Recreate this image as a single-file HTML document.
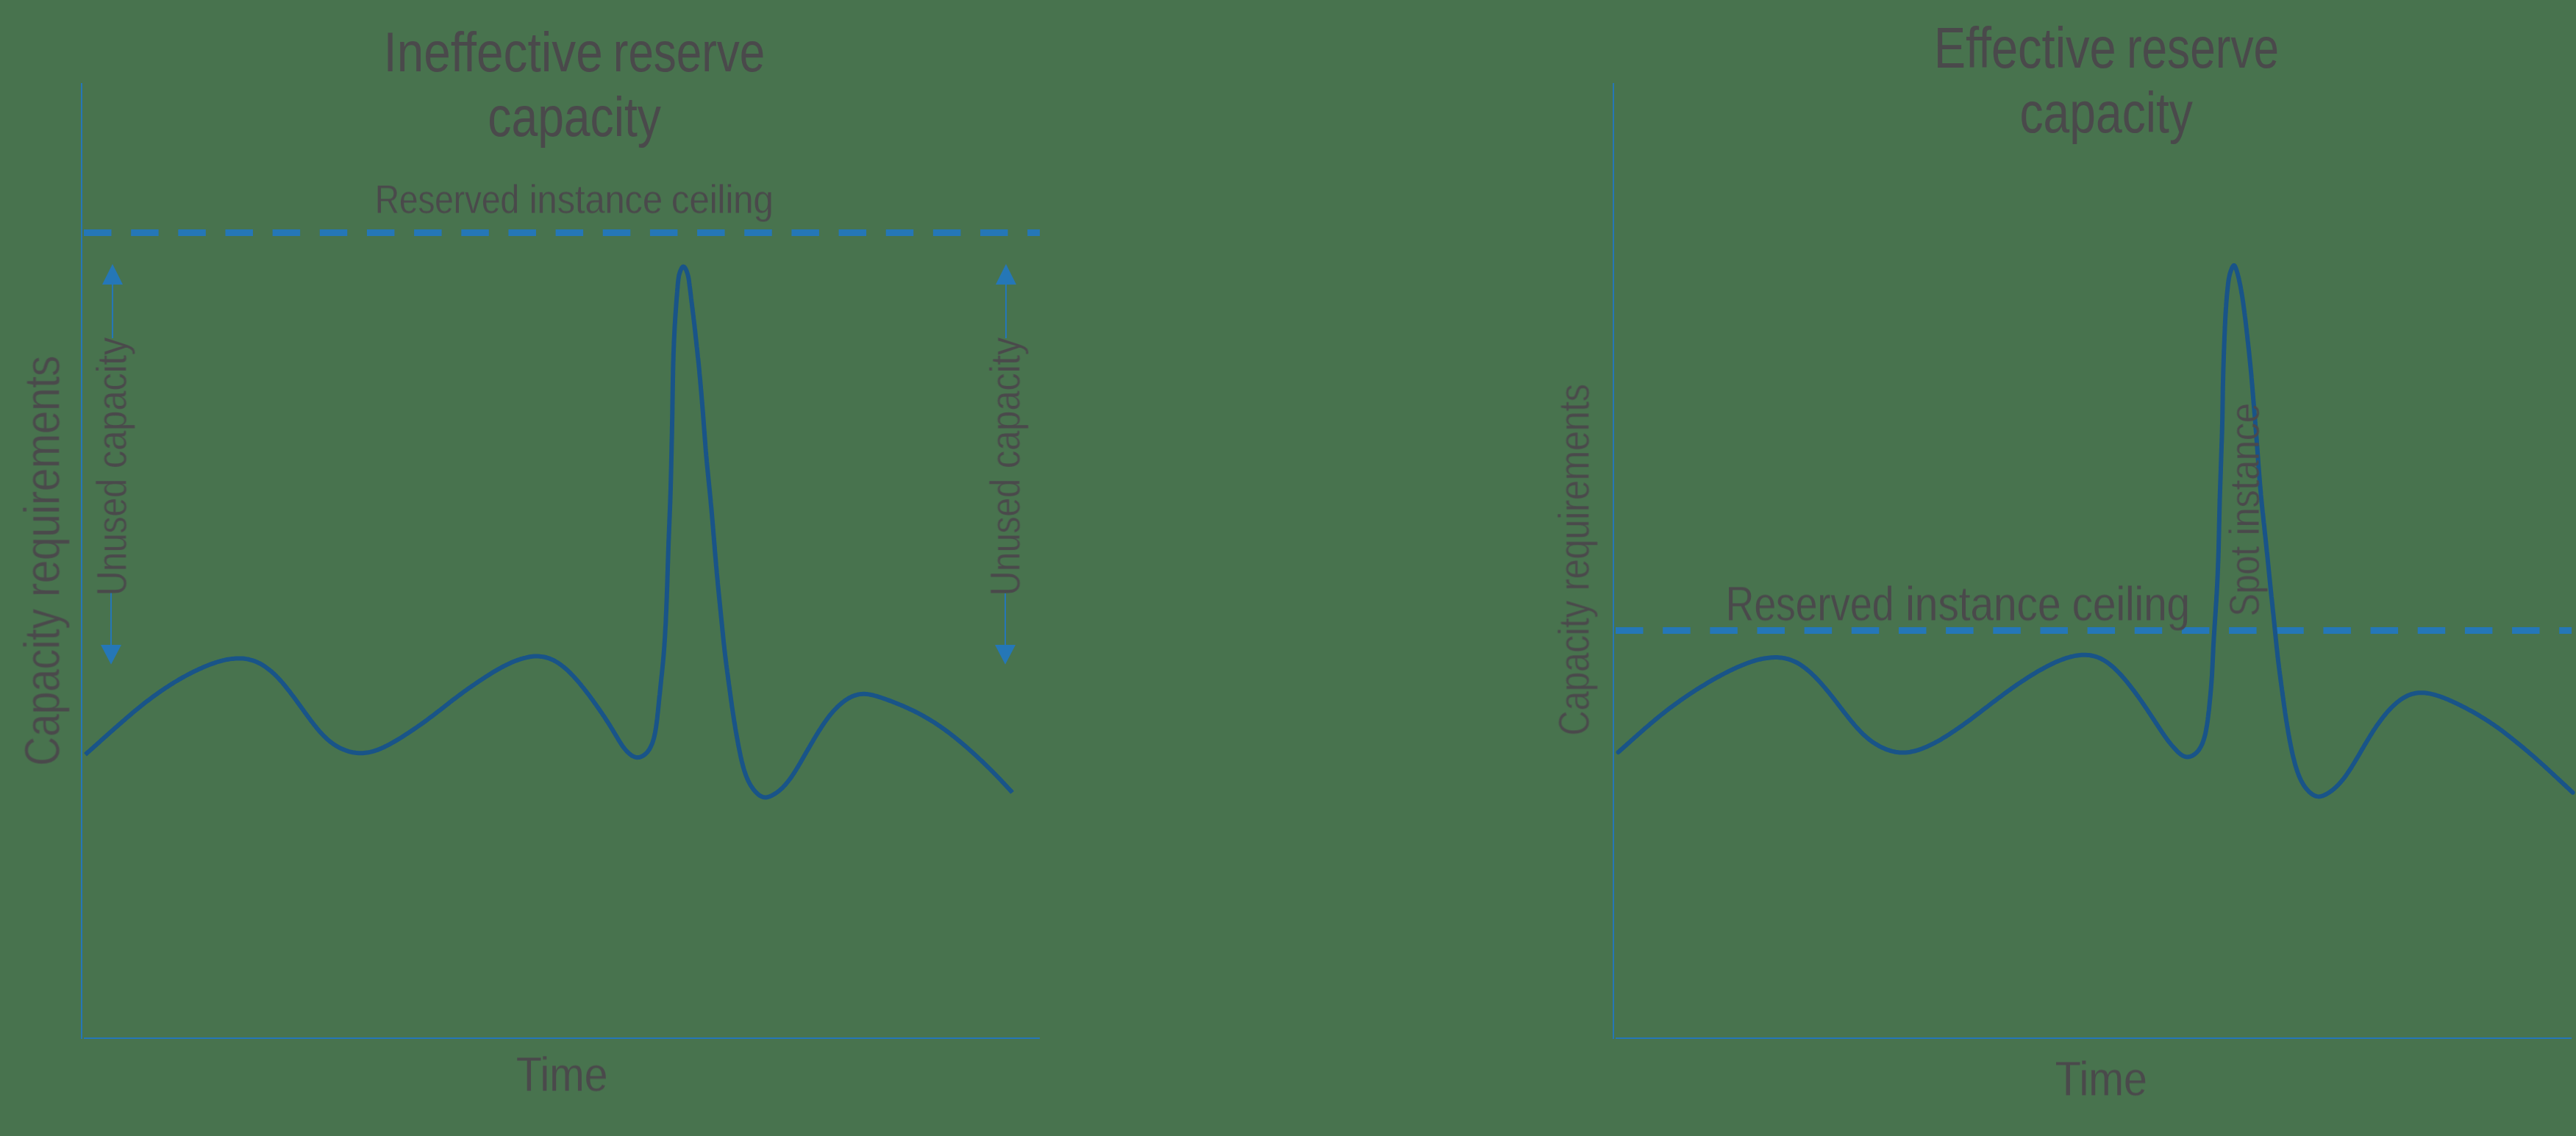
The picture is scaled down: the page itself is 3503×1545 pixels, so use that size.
<!DOCTYPE html>
<html><head><meta charset="utf-8"><style>
html,body{margin:0;padding:0;background:#48734e;}
svg{display:block;}
text{font-family:"Liberation Sans", sans-serif;fill:#4a494b;}
</style></head><body>
<svg width="3503" height="1545" viewBox="0 0 3503 1545">
<defs><filter id="th" x="-2%" y="-2%" width="104%" height="104%" color-interpolation-filters="sRGB"><feMorphology in="SourceGraphic" operator="erode" radius="0.5" result="er"/><feComposite in="SourceGraphic" in2="er" operator="arithmetic" k1="0" k2="0.5" k3="0.5" k4="0"/></filter></defs>
<rect x="0" y="0" width="3503" height="1545" fill="#48734e"/>
<line x1="111" y1="113" x2="111" y2="1413" stroke="#2577b7" stroke-width="2"/>
<line x1="114" y1="1412" x2="1414" y2="1412" stroke="#2577b7" stroke-width="2"/>
<line x1="114" y1="316.5" x2="1414" y2="316.5" stroke="#2577b7" stroke-width="9" stroke-dasharray="37.5 26.66"/>
<line x1="2194" y1="113" x2="2194" y2="1413" stroke="#2577b7" stroke-width="2"/>
<line x1="2197" y1="1412" x2="3497" y2="1412" stroke="#2577b7" stroke-width="2"/>
<line x1="2197" y1="857.5" x2="3497" y2="857.5" stroke="#2577b7" stroke-width="9" stroke-dasharray="37.5 26.66"/>
<polygon points="153.00,359.00 139.00,387.00 167.00,387.00" fill="#2577b7"/>
<line x1="153.00" y1="387.00" x2="153.00" y2="460.00" stroke="#2577b7" stroke-width="2"/>
<line x1="151.00" y1="806.00" x2="151.00" y2="877.00" stroke="#2577b7" stroke-width="2"/>
<polygon points="151.00,903.80 137.00,877.00 165.00,877.00" fill="#2577b7"/>
<polygon points="1368.00,359.00 1354.00,387.00 1382.00,387.00" fill="#2577b7"/>
<line x1="1368.00" y1="387.00" x2="1368.00" y2="460.00" stroke="#2577b7" stroke-width="2"/>
<line x1="1367.00" y1="807.00" x2="1367.00" y2="877.00" stroke="#2577b7" stroke-width="2"/>
<polygon points="1367.00,903.80 1353.00,877.00 1381.00,877.00" fill="#2577b7"/>
<path d="M116.0,1026.2 L117.5,1024.9 L119.0,1023.5 L120.5,1022.2 L122.0,1020.9 L123.5,1019.6 L125.0,1018.2 L126.5,1016.9 L128.0,1015.6 L129.5,1014.2 L131.0,1012.9 L132.5,1011.6 L134.0,1010.2 L135.5,1008.9 L136.9,1007.6 L138.4,1006.3 L139.9,1004.9 L141.4,1003.6 L142.9,1002.3 L144.4,1000.9 L145.9,999.6 L147.4,998.3 L148.9,996.9 L150.4,995.6 L151.9,994.3 L153.4,993.0 L154.9,991.6 L156.4,990.3 L157.9,989.0 L159.4,987.7 L160.9,986.3 L162.4,985.0 L163.9,983.7 L165.4,982.4 L166.9,981.1 L168.5,979.7 L170.0,978.4 L171.5,977.1 L173.0,975.8 L174.5,974.5 L176.0,973.2 L177.5,971.9 L179.1,970.6 L180.6,969.3 L182.1,968.0 L183.7,966.7 L185.2,965.5 L186.8,964.2 L188.3,962.9 L189.9,961.7 L191.4,960.4 L193.0,959.2 L194.6,957.9 L196.1,956.7 L197.7,955.4 L199.3,954.2 L200.9,953.0 L202.5,951.8 L204.1,950.6 L205.7,949.4 L207.3,948.2 L208.9,947.0 L210.5,945.8 L212.1,944.7 L213.8,943.5 L215.4,942.3 L217.0,941.2 L218.7,940.0 L220.3,938.9 L222.0,937.8 L223.6,936.7 L225.3,935.6 L227.0,934.5 L228.7,933.4 L230.3,932.3 L232.0,931.2 L233.7,930.1 L235.4,929.1 L237.1,928.0 L238.8,927.0 L240.6,926.0 L242.3,924.9 L244.0,923.9 L245.8,922.9 L247.5,921.9 L249.2,921.0 L251.0,920.0 L252.8,919.0 L254.5,918.1 L256.3,917.1 L258.1,916.2 L259.9,915.3 L261.6,914.4 L263.4,913.5 L265.2,912.6 L267.1,911.7 L268.9,910.9 L270.7,910.0 L272.5,909.2 L274.4,908.4 L276.2,907.6 L278.1,906.8 L279.9,906.0 L281.8,905.3 L283.7,904.5 L285.5,903.8 L287.4,903.1 L289.3,902.4 L291.2,901.8 L293.1,901.1 L295.0,900.5 L296.9,899.9 L298.9,899.4 L300.8,898.8 L302.7,898.3 L304.7,897.9 L306.6,897.4 L308.6,897.0 L310.6,896.7 L312.5,896.4 L314.5,896.1 L316.5,895.9 L318.5,895.7 L320.5,895.5 L322.5,895.4 L324.5,895.4 L326.5,895.4 L328.5,895.5 L330.4,895.6 L332.4,895.8 L334.4,896.1 L336.3,896.4 L338.3,896.8 L340.2,897.3 L342.1,897.8 L344.0,898.4 L345.9,899.0 L347.7,899.8 L349.5,900.5 L351.3,901.4 L353.1,902.2 L354.8,903.2 L356.5,904.2 L358.2,905.2 L359.9,906.3 L361.5,907.4 L363.1,908.6 L364.7,909.8 L366.3,911.0 L367.9,912.3 L369.4,913.6 L370.9,914.9 L372.4,916.2 L373.8,917.6 L375.3,919.0 L376.7,920.5 L378.1,921.9 L379.4,923.4 L380.8,924.9 L382.2,926.4 L383.5,927.9 L384.8,929.4 L386.1,931.0 L387.4,932.5 L388.7,934.1 L389.9,935.7 L391.2,937.3 L392.4,938.8 L393.7,940.4 L394.9,942.0 L396.1,943.7 L397.3,945.3 L398.6,946.9 L399.8,948.5 L401.0,950.1 L402.2,951.8 L403.4,953.4 L404.5,955.0 L405.7,956.6 L406.9,958.3 L408.1,959.9 L409.3,961.5 L410.5,963.2 L411.7,964.8 L412.8,966.4 L414.0,968.1 L415.2,969.7 L416.4,971.3 L417.6,973.0 L418.8,974.6 L420.0,976.2 L421.2,977.8 L422.4,979.5 L423.6,981.1 L424.9,982.7 L426.1,984.3 L427.3,985.9 L428.6,987.4 L429.9,989.0 L431.1,990.6 L432.4,992.1 L433.7,993.7 L435.1,995.2 L436.4,996.7 L437.8,998.1 L439.1,999.6 L440.5,1001.0 L442.0,1002.4 L443.4,1003.8 L444.9,1005.2 L446.4,1006.5 L447.9,1007.8 L449.4,1009.0 L451.0,1010.2 L452.6,1011.4 L454.2,1012.5 L455.9,1013.6 L457.6,1014.6 L459.3,1015.6 L461.0,1016.6 L462.8,1017.5 L464.5,1018.3 L466.4,1019.1 L468.2,1019.8 L470.0,1020.5 L471.9,1021.2 L473.8,1021.8 L475.7,1022.3 L477.6,1022.8 L479.6,1023.2 L481.6,1023.5 L483.5,1023.8 L485.5,1024.0 L487.5,1024.2 L489.5,1024.2 L491.4,1024.2 L493.4,1024.2 L495.4,1024.0 L497.4,1023.8 L499.3,1023.6 L501.3,1023.2 L503.2,1022.9 L505.2,1022.4 L507.1,1021.9 L509.0,1021.3 L510.9,1020.7 L512.8,1020.1 L514.6,1019.4 L516.5,1018.6 L518.3,1017.9 L520.2,1017.0 L522.0,1016.2 L523.8,1015.3 L525.6,1014.4 L527.4,1013.5 L529.2,1012.6 L531.0,1011.6 L532.7,1010.7 L534.5,1009.7 L536.2,1008.7 L538.0,1007.6 L539.7,1006.6 L541.4,1005.6 L543.2,1004.5 L544.9,1003.5 L546.6,1002.4 L548.3,1001.3 L550.0,1000.2 L551.7,999.1 L553.4,998.0 L555.1,996.9 L556.8,995.8 L558.4,994.7 L560.1,993.6 L561.8,992.5 L563.4,991.3 L565.1,990.2 L566.7,989.1 L568.4,987.9 L570.0,986.8 L571.7,985.6 L573.3,984.5 L575.0,983.3 L576.6,982.2 L578.2,981.0 L579.8,979.8 L581.4,978.6 L583.0,977.4 L584.6,976.2 L586.2,975.0 L587.8,973.8 L589.4,972.6 L591.0,971.4 L592.6,970.2 L594.2,968.9 L595.8,967.7 L597.4,966.5 L598.9,965.3 L600.5,964.0 L602.1,962.8 L603.7,961.6 L605.2,960.3 L606.8,959.1 L608.4,957.9 L610.0,956.6 L611.5,955.4 L613.1,954.2 L614.7,952.9 L616.3,951.7 L617.9,950.5 L619.5,949.3 L621.1,948.1 L622.7,946.9 L624.3,945.7 L625.9,944.5 L627.5,943.3 L629.1,942.1 L630.7,940.9 L632.3,939.8 L634.0,938.6 L635.6,937.4 L637.2,936.3 L638.9,935.1 L640.5,934.0 L642.1,932.8 L643.8,931.7 L645.4,930.6 L647.1,929.4 L648.8,928.3 L650.4,927.2 L652.1,926.1 L653.8,925.0 L655.4,923.9 L657.1,922.8 L658.8,921.7 L660.5,920.6 L662.2,919.5 L663.9,918.4 L665.6,917.4 L667.3,916.3 L669.0,915.2 L670.7,914.2 L672.4,913.2 L674.2,912.1 L675.9,911.1 L677.6,910.1 L679.4,909.2 L681.2,908.2 L682.9,907.2 L684.7,906.3 L686.5,905.4 L688.3,904.5 L690.1,903.6 L691.9,902.7 L693.7,901.9 L695.5,901.1 L697.4,900.3 L699.2,899.5 L701.1,898.8 L703.0,898.1 L704.9,897.4 L706.8,896.8 L708.7,896.1 L710.6,895.6 L712.5,895.0 L714.5,894.6 L716.4,894.1 L718.4,893.7 L720.3,893.3 L722.3,893.0 L724.3,892.8 L726.3,892.6 L728.3,892.6 L730.2,892.5 L732.2,892.6 L734.2,892.7 L736.1,892.9 L738.1,893.2 L740.0,893.5 L741.9,894.0 L743.8,894.5 L745.7,895.1 L747.5,895.7 L749.3,896.5 L751.1,897.3 L752.9,898.1 L754.6,899.0 L756.3,900.0 L758.0,901.0 L759.7,902.1 L761.3,903.2 L762.9,904.4 L764.5,905.6 L766.1,906.8 L767.6,908.1 L769.2,909.4 L770.7,910.8 L772.2,912.1 L773.6,913.5 L775.1,914.9 L776.5,916.4 L777.9,917.8 L779.3,919.3 L780.7,920.8 L782.0,922.3 L783.4,923.8 L784.7,925.3 L786.1,926.8 L787.4,928.4 L788.7,929.9 L790.0,931.5 L791.2,933.1 L792.5,934.6 L793.8,936.2 L795.0,937.8 L796.3,939.4 L797.5,941.0 L798.7,942.6 L800.0,944.2 L801.2,945.8 L802.4,947.4 L803.6,949.1 L804.8,950.7 L806.0,952.3 L807.1,953.9 L808.3,955.6 L809.5,957.2 L810.7,958.8 L811.8,960.5 L813.0,962.1 L814.1,963.8 L815.3,965.4 L816.4,967.1 L817.6,968.7 L818.7,970.4 L819.8,972.1 L821.0,973.7 L822.1,975.4 L823.2,977.1 L824.3,978.8 L825.4,980.5 L826.5,982.2 L827.6,983.9 L828.7,985.6 L829.8,987.4 L830.8,989.1 L831.9,990.8 L833.0,992.6 L834.0,994.3 L835.1,996.1 L836.1,997.8 L837.2,999.6 L838.3,1001.4 L839.3,1003.1 L840.4,1004.9 L841.4,1006.7 L842.5,1008.4 L843.6,1010.1 L844.7,1011.8 L845.8,1013.5 L847.0,1015.2 L848.2,1016.8 L849.4,1018.4 L850.7,1019.9 L852.0,1021.4 L853.4,1022.8 L854.8,1024.1 L856.3,1025.4 L857.8,1026.6 L859.4,1027.7 L861.2,1028.6 L862.9,1029.4 L864.8,1030.0 L866.6,1030.2 L868.5,1030.1 L870.3,1029.7 L872.2,1029.0 L873.9,1028.1 L875.6,1027.1 L877.1,1025.9 L878.5,1024.7 L879.9,1023.3 L881.1,1021.8 L882.2,1020.3 L883.3,1018.7 L884.2,1017.0 L885.1,1015.2 L885.9,1013.4 L886.7,1011.6 L887.4,1009.7 L888.0,1007.8 L888.6,1005.8 L889.2,1003.8 L889.7,1001.8 L890.1,999.8 L890.6,997.8 L891.0,995.7 L891.4,993.7 L891.7,991.6 L892.0,989.6 L892.3,987.5 L892.6,985.4 L892.9,983.3 L893.2,981.2 L893.4,979.2 L893.7,977.1 L893.9,975.0 L894.1,973.0 L894.3,970.9 L894.6,968.9 L894.8,966.8 L895.0,964.8 L895.2,962.7 L895.4,960.7 L895.6,958.7 L895.8,956.7 L896.0,954.6 L896.2,952.6 L896.4,950.6 L896.6,948.6 L896.8,946.6 L897.1,944.6 L897.3,942.6 L897.5,940.6 L897.7,938.6 L897.9,936.6 L898.1,934.6 L898.3,932.6 L898.5,930.6 L898.7,928.6 L898.9,926.6 L899.1,924.6 L899.3,922.7 L899.5,920.7 L899.8,918.7 L900.0,916.7 L900.2,914.7 L900.4,912.7 L900.6,910.7 L900.8,908.8 L901.0,906.8 L901.2,904.8 L901.4,902.8 L901.6,900.8 L901.8,898.8 L901.9,896.8 L902.1,894.9 L902.3,892.9 L902.5,890.9 L902.6,888.9 L902.8,886.9 L902.9,884.9 L903.1,882.9 L903.2,880.9 L903.4,878.9 L903.5,876.9 L903.6,874.9 L903.8,872.9 L903.9,870.9 L904.0,868.9 L904.2,866.9 L904.3,864.9 L904.4,862.9 L904.5,860.9 L904.6,858.9 L904.7,856.9 L904.8,854.9 L904.9,852.9 L905.1,850.9 L905.2,848.9 L905.3,846.9 L905.4,844.9 L905.5,842.9 L905.5,840.9 L905.6,838.9 L905.7,836.9 L905.8,834.9 L905.9,832.9 L906.0,830.9 L906.1,828.9 L906.2,826.9 L906.2,824.9 L906.3,822.9 L906.4,820.9 L906.5,818.9 L906.6,816.9 L906.6,814.9 L906.7,812.9 L906.8,810.9 L906.8,808.9 L906.9,806.9 L907.0,804.9 L907.1,802.9 L907.1,800.9 L907.2,798.9 L907.3,796.9 L907.3,794.9 L907.4,792.9 L907.5,790.9 L907.5,788.9 L907.6,786.9 L907.6,784.9 L907.7,782.9 L907.8,780.9 L907.8,778.9 L907.9,776.9 L908.0,774.9 L908.0,772.9 L908.1,770.9 L908.1,768.9 L908.2,766.9 L908.3,764.9 L908.3,762.9 L908.4,760.9 L908.5,758.9 L908.5,756.9 L908.6,754.9 L908.7,752.9 L908.7,750.9 L908.8,748.9 L908.9,746.9 L908.9,744.9 L909.0,742.9 L909.1,740.9 L909.1,738.9 L909.2,736.9 L909.3,734.9 L909.4,732.9 L909.5,730.9 L909.5,728.9 L909.6,726.9 L909.7,724.9 L909.8,722.9 L909.9,720.9 L909.9,718.9 L910.0,716.9 L910.1,714.9 L910.2,712.9 L910.3,710.9 L910.3,708.9 L910.4,706.9 L910.5,704.9 L910.6,702.9 L910.7,700.9 L910.7,698.9 L910.8,696.9 L910.9,694.9 L911.0,692.9 L911.1,690.9 L911.1,688.9 L911.2,686.9 L911.3,684.9 L911.4,682.9 L911.4,680.9 L911.5,678.9 L911.6,676.9 L911.6,674.9 L911.7,672.9 L911.8,670.9 L911.8,668.9 L911.9,666.9 L912.0,664.9 L912.0,662.9 L912.1,660.9 L912.1,658.9 L912.2,656.9 L912.2,654.9 L912.3,652.9 L912.3,650.9 L912.4,648.9 L912.4,646.9 L912.5,644.9 L912.5,642.9 L912.6,640.9 L912.6,638.9 L912.7,636.9 L912.7,634.9 L912.8,632.9 L912.8,630.9 L912.8,628.9 L912.9,626.9 L912.9,624.9 L913.0,622.9 L913.0,620.9 L913.1,618.9 L913.1,616.9 L913.2,614.9 L913.2,612.9 L913.3,610.9 L913.3,608.9 L913.3,606.9 L913.4,604.9 L913.4,602.9 L913.5,600.9 L913.5,598.8 L913.6,596.8 L913.6,594.8 L913.7,592.8 L913.7,590.8 L913.8,588.8 L913.8,586.8 L913.8,584.8 L913.9,582.8 L913.9,580.8 L914.0,578.8 L914.0,576.8 L914.0,574.8 L914.1,572.8 L914.1,570.8 L914.2,568.8 L914.2,566.8 L914.2,564.8 L914.3,562.8 L914.3,560.8 L914.3,558.8 L914.4,556.8 L914.4,554.8 L914.4,552.8 L914.4,550.8 L914.5,548.8 L914.5,546.8 L914.5,544.8 L914.6,542.8 L914.6,540.8 L914.6,538.8 L914.7,536.8 L914.7,534.8 L914.7,532.8 L914.8,530.8 L914.8,528.8 L914.8,526.8 L914.9,524.8 L914.9,522.8 L914.9,520.8 L915.0,518.8 L915.0,516.8 L915.0,514.8 L915.1,512.8 L915.1,510.8 L915.2,508.8 L915.2,506.8 L915.2,504.8 L915.3,502.8 L915.3,500.8 L915.4,498.8 L915.4,496.8 L915.5,494.8 L915.5,492.8 L915.6,490.8 L915.7,488.8 L915.7,486.8 L915.8,484.8 L915.8,482.8 L915.9,480.8 L916.0,478.8 L916.1,476.8 L916.1,474.8 L916.2,472.8 L916.3,470.8 L916.4,468.8 L916.4,466.8 L916.5,464.8 L916.6,462.8 L916.7,460.8 L916.8,458.8 L916.9,456.8 L917.0,454.8 L917.1,452.8 L917.2,450.8 L917.3,448.8 L917.4,446.8 L917.5,444.8 L917.6,442.8 L917.7,440.8 L917.9,438.8 L918.0,436.8 L918.1,434.8 L918.2,432.8 L918.4,430.8 L918.5,428.8 L918.6,426.8 L918.8,424.8 L918.9,422.8 L919.1,420.8 L919.2,418.8 L919.4,416.8 L919.5,414.9 L919.6,412.9 L919.8,410.9 L919.9,408.9 L920.1,406.9 L920.2,404.9 L920.4,402.9 L920.6,400.9 L920.7,399.0 L920.9,397.0 L921.0,395.0 L921.2,393.0 L921.4,391.0 L921.5,389.0 L921.7,387.0 L921.9,385.1 L922.1,383.1 L922.3,381.1 L922.6,379.1 L922.9,377.1 L923.2,375.1 L923.7,373.1 L924.3,371.0 L925.0,369.0 L925.8,367.0 L926.8,365.0 L927.9,363.3 L929.1,362.5 L930.4,363.0 L931.6,364.4 L932.6,366.4 L933.6,368.4 L934.3,370.5 L935.0,372.5 L935.5,374.5 L936.0,376.5 L936.4,378.5 L936.7,380.5 L937.0,382.4 L937.2,384.4 L937.5,386.4 L937.7,388.4 L938.0,390.3 L938.2,392.3 L938.5,394.3 L938.7,396.3 L939.0,398.2 L939.2,400.2 L939.5,402.2 L939.7,404.2 L939.9,406.1 L940.2,408.1 L940.4,410.1 L940.7,412.1 L940.9,414.0 L941.1,416.0 L941.4,418.0 L941.6,420.0 L941.9,422.0 L942.1,423.9 L942.4,425.9 L942.6,427.9 L942.9,429.9 L943.1,431.9 L943.3,433.9 L943.6,435.8 L943.8,437.8 L944.0,439.8 L944.3,441.8 L944.5,443.8 L944.7,445.8 L944.9,447.8 L945.2,449.7 L945.4,451.7 L945.6,453.7 L945.8,455.7 L946.0,457.7 L946.2,459.7 L946.5,461.7 L946.7,463.7 L946.9,465.7 L947.1,467.7 L947.3,469.6 L947.5,471.6 L947.8,473.6 L948.0,475.6 L948.2,477.6 L948.4,479.6 L948.6,481.6 L948.8,483.6 L949.0,485.6 L949.3,487.6 L949.5,489.6 L949.7,491.5 L949.9,493.5 L950.1,495.5 L950.3,497.5 L950.5,499.5 L950.7,501.5 L950.9,503.5 L951.1,505.5 L951.2,507.5 L951.4,509.5 L951.6,511.5 L951.8,513.5 L952.0,515.5 L952.2,517.5 L952.3,519.4 L952.5,521.4 L952.7,523.4 L952.9,525.4 L953.0,527.4 L953.2,529.4 L953.4,531.4 L953.6,533.4 L953.7,535.4 L953.9,537.4 L954.1,539.4 L954.2,541.4 L954.4,543.4 L954.6,545.4 L954.7,547.4 L954.9,549.4 L955.1,551.4 L955.2,553.4 L955.4,555.3 L955.5,557.3 L955.7,559.3 L955.9,561.3 L956.0,563.3 L956.2,565.3 L956.3,567.3 L956.5,569.3 L956.6,571.3 L956.8,573.3 L956.9,575.3 L957.1,577.3 L957.2,579.3 L957.4,581.3 L957.5,583.3 L957.7,585.3 L957.8,587.3 L958.0,589.3 L958.1,591.3 L958.3,593.3 L958.4,595.3 L958.6,597.3 L958.7,599.3 L958.9,601.3 L959.1,603.3 L959.2,605.2 L959.4,607.2 L959.5,609.2 L959.7,611.2 L959.8,613.2 L960.0,615.2 L960.2,617.2 L960.3,619.2 L960.5,621.2 L960.7,623.2 L960.9,625.2 L961.0,627.2 L961.2,629.2 L961.4,631.2 L961.6,633.2 L961.8,635.2 L962.0,637.2 L962.2,639.1 L962.4,641.1 L962.6,643.1 L962.8,645.1 L963.0,647.1 L963.2,649.1 L963.4,651.1 L963.6,653.1 L963.8,655.1 L964.0,657.1 L964.2,659.1 L964.4,661.1 L964.6,663.0 L964.8,665.0 L965.0,667.0 L965.2,669.0 L965.4,671.0 L965.6,673.0 L965.8,675.0 L966.0,677.0 L966.2,679.0 L966.4,681.0 L966.5,683.0 L966.7,685.0 L966.9,687.0 L967.1,688.9 L967.3,690.9 L967.5,692.9 L967.6,694.9 L967.8,696.9 L968.0,698.9 L968.2,700.9 L968.3,702.9 L968.5,704.9 L968.7,706.9 L968.9,708.9 L969.0,710.9 L969.2,712.9 L969.4,714.9 L969.5,716.9 L969.7,718.9 L969.9,720.9 L970.0,722.9 L970.2,724.8 L970.3,726.8 L970.5,728.8 L970.7,730.8 L970.8,732.8 L971.0,734.8 L971.2,736.8 L971.3,738.8 L971.5,740.8 L971.7,742.8 L971.8,744.8 L972.0,746.8 L972.1,748.8 L972.3,750.8 L972.5,752.8 L972.6,754.8 L972.8,756.8 L973.0,758.8 L973.2,760.8 L973.3,762.8 L973.5,764.7 L973.7,766.7 L973.8,768.7 L974.0,770.7 L974.2,772.7 L974.4,774.7 L974.6,776.7 L974.7,778.7 L974.9,780.7 L975.1,782.7 L975.3,784.7 L975.5,786.7 L975.7,788.7 L975.9,790.7 L976.0,792.7 L976.2,794.7 L976.4,796.6 L976.6,798.6 L976.8,800.6 L977.0,802.6 L977.2,804.6 L977.4,806.6 L977.6,808.6 L977.8,810.6 L978.0,812.6 L978.2,814.6 L978.4,816.6 L978.6,818.6 L978.8,820.6 L979.0,822.5 L979.2,824.5 L979.4,826.5 L979.6,828.5 L979.8,830.5 L980.0,832.5 L980.2,834.5 L980.4,836.5 L980.6,838.5 L980.8,840.5 L981.0,842.5 L981.2,844.5 L981.4,846.4 L981.6,848.4 L981.8,850.4 L982.0,852.4 L982.2,854.4 L982.4,856.4 L982.6,858.4 L982.8,860.4 L983.0,862.4 L983.2,864.4 L983.4,866.4 L983.6,868.4 L983.8,870.3 L984.0,872.3 L984.2,874.3 L984.4,876.3 L984.7,878.3 L984.9,880.3 L985.1,882.3 L985.3,884.3 L985.5,886.3 L985.8,888.3 L986.0,890.2 L986.2,892.2 L986.5,894.2 L986.7,896.2 L987.0,898.2 L987.2,900.2 L987.5,902.2 L987.7,904.1 L988.0,906.1 L988.2,908.1 L988.5,910.1 L988.8,912.1 L989.0,914.1 L989.3,916.1 L989.6,918.0 L989.8,920.0 L990.1,922.0 L990.3,924.0 L990.6,926.0 L990.9,928.0 L991.1,929.9 L991.4,931.9 L991.7,933.9 L992.0,935.9 L992.2,937.9 L992.5,939.9 L992.8,941.8 L993.0,943.8 L993.3,945.8 L993.6,947.8 L993.8,949.8 L994.1,951.8 L994.4,953.7 L994.7,955.7 L995.0,957.7 L995.2,959.7 L995.5,961.7 L995.8,963.6 L996.1,965.6 L996.4,967.6 L996.7,969.6 L997.0,971.6 L997.3,973.5 L997.6,975.5 L997.9,977.5 L998.2,979.5 L998.5,981.5 L998.8,983.4 L999.2,985.4 L999.5,987.4 L999.8,989.4 L1000.1,991.3 L1000.5,993.3 L1000.8,995.3 L1001.2,997.3 L1001.5,999.3 L1001.8,1001.2 L1002.2,1003.2 L1002.6,1005.2 L1002.9,1007.2 L1003.3,1009.1 L1003.6,1011.1 L1004.0,1013.1 L1004.4,1015.0 L1004.8,1017.0 L1005.2,1019.0 L1005.6,1021.0 L1006.0,1022.9 L1006.4,1024.9 L1006.8,1026.9 L1007.2,1028.8 L1007.6,1030.8 L1008.1,1032.7 L1008.5,1034.7 L1009.0,1036.6 L1009.5,1038.6 L1010.0,1040.5 L1010.5,1042.5 L1011.1,1044.4 L1011.6,1046.3 L1012.2,1048.2 L1012.8,1050.1 L1013.5,1052.0 L1014.1,1053.9 L1014.8,1055.8 L1015.6,1057.6 L1016.4,1059.5 L1017.2,1061.3 L1018.1,1063.1 L1019.0,1064.9 L1020.0,1066.7 L1021.0,1068.4 L1022.1,1070.1 L1023.3,1071.8 L1024.5,1073.5 L1025.8,1075.1 L1027.2,1076.7 L1028.7,1078.2 L1030.2,1079.7 L1031.8,1081.0 L1033.5,1082.2 L1035.2,1083.1 L1037.0,1083.8 L1038.8,1084.3 L1040.6,1084.5 L1042.5,1084.4 L1044.4,1084.0 L1046.3,1083.4 L1048.2,1082.6 L1050.1,1081.7 L1051.9,1080.7 L1053.6,1079.7 L1055.3,1078.6 L1057.0,1077.4 L1058.6,1076.2 L1060.1,1074.9 L1061.6,1073.6 L1063.1,1072.2 L1064.6,1070.9 L1065.9,1069.4 L1067.3,1068.0 L1068.6,1066.5 L1069.9,1064.9 L1071.2,1063.4 L1072.4,1061.8 L1073.6,1060.2 L1074.8,1058.6 L1076.0,1057.0 L1077.1,1055.3 L1078.2,1053.6 L1079.4,1052.0 L1080.4,1050.3 L1081.5,1048.6 L1082.6,1046.9 L1083.6,1045.1 L1084.7,1043.4 L1085.7,1041.7 L1086.7,1040.0 L1087.8,1038.2 L1088.8,1036.5 L1089.8,1034.7 L1090.8,1033.0 L1091.8,1031.2 L1092.8,1029.5 L1093.8,1027.7 L1094.8,1026.0 L1095.8,1024.2 L1096.8,1022.5 L1097.8,1020.8 L1098.8,1019.0 L1099.9,1017.3 L1100.9,1015.5 L1101.9,1013.8 L1102.9,1012.0 L1103.9,1010.3 L1105.0,1008.6 L1106.0,1006.8 L1107.0,1005.1 L1108.1,1003.4 L1109.1,1001.6 L1110.1,999.9 L1111.2,998.2 L1112.3,996.4 L1113.3,994.7 L1114.4,993.0 L1115.5,991.3 L1116.6,989.6 L1117.7,987.9 L1118.8,986.2 L1120.0,984.5 L1121.1,982.8 L1122.3,981.2 L1123.5,979.5 L1124.7,977.9 L1125.9,976.2 L1127.1,974.6 L1128.4,973.0 L1129.7,971.4 L1131.0,969.9 L1132.3,968.3 L1133.7,966.8 L1135.1,965.3 L1136.5,963.8 L1137.9,962.4 L1139.3,960.9 L1140.8,959.6 L1142.3,958.2 L1143.8,956.9 L1145.4,955.6 L1147.0,954.4 L1148.6,953.2 L1150.2,952.0 L1151.9,951.0 L1153.5,949.9 L1155.2,949.0 L1157.0,948.1 L1158.7,947.3 L1160.5,946.5 L1162.3,945.9 L1164.2,945.3 L1166.0,944.8 L1167.9,944.4 L1169.8,944.1 L1171.7,943.9 L1173.7,943.8 L1175.6,943.8 L1177.6,943.9 L1179.5,944.1 L1181.5,944.4 L1183.4,944.7 L1185.4,945.1 L1187.3,945.5 L1189.3,946.1 L1191.2,946.6 L1193.1,947.2 L1195.1,947.8 L1197.0,948.4 L1198.9,949.0 L1200.8,949.7 L1202.7,950.3 L1204.6,951.0 L1206.5,951.7 L1208.4,952.4 L1210.3,953.1 L1212.2,953.8 L1214.0,954.5 L1215.9,955.3 L1217.8,956.0 L1219.6,956.7 L1221.5,957.5 L1223.3,958.3 L1225.2,959.0 L1227.0,959.8 L1228.9,960.6 L1230.7,961.4 L1232.6,962.2 L1234.4,963.0 L1236.2,963.9 L1238.0,964.7 L1239.8,965.6 L1241.6,966.4 L1243.4,967.3 L1245.2,968.2 L1247.0,969.1 L1248.8,970.0 L1250.5,971.0 L1252.3,971.9 L1254.0,972.9 L1255.8,973.8 L1257.5,974.8 L1259.3,975.8 L1261.0,976.8 L1262.7,977.8 L1264.4,978.9 L1266.1,979.9 L1267.8,981.0 L1269.5,982.0 L1271.2,983.1 L1272.9,984.2 L1274.5,985.3 L1276.2,986.4 L1277.9,987.5 L1279.5,988.7 L1281.1,989.8 L1282.8,991.0 L1284.4,992.1 L1286.0,993.3 L1287.6,994.5 L1289.2,995.7 L1290.8,996.9 L1292.4,998.1 L1294.0,999.3 L1295.6,1000.6 L1297.2,1001.8 L1298.7,1003.1 L1300.3,1004.3 L1301.8,1005.6 L1303.4,1006.9 L1304.9,1008.1 L1306.5,1009.4 L1308.0,1010.7 L1309.5,1012.0 L1311.0,1013.3 L1312.6,1014.6 L1314.1,1015.9 L1315.6,1017.3 L1317.1,1018.6 L1318.6,1019.9 L1320.1,1021.2 L1321.6,1022.6 L1323.1,1023.9 L1324.5,1025.3 L1326.0,1026.6 L1327.5,1028.0 L1329.0,1029.3 L1330.4,1030.7 L1331.9,1032.1 L1333.3,1033.4 L1334.8,1034.8 L1336.3,1036.2 L1337.7,1037.6 L1339.1,1039.0 L1340.6,1040.4 L1342.0,1041.8 L1343.4,1043.2 L1344.9,1044.6 L1346.3,1046.0 L1347.7,1047.4 L1349.1,1048.8 L1350.5,1050.2 L1351.9,1051.7 L1353.3,1053.1 L1354.7,1054.5 L1356.1,1056.0 L1357.5,1057.4 L1358.9,1058.8 L1360.3,1060.3 L1361.7,1061.7 L1363.0,1063.2 L1364.4,1064.7 L1365.8,1066.1 L1367.1,1067.6 L1368.5,1069.0 L1369.8,1070.5 L1371.2,1072.0 L1372.6,1073.5 L1373.9,1074.9 L1375.3,1076.4 L1376.6,1077.9" fill="none" stroke="#195488" stroke-width="6" stroke-linejoin="round"/>
<path d="M2200.6,1023.0 L2202.1,1021.7 L2203.6,1020.3 L2205.1,1019.0 L2206.6,1017.7 L2208.1,1016.3 L2209.6,1015.0 L2211.1,1013.7 L2212.6,1012.3 L2214.1,1011.0 L2215.5,1009.7 L2217.0,1008.4 L2218.5,1007.0 L2220.0,1005.7 L2221.5,1004.4 L2223.0,1003.0 L2224.5,1001.7 L2226.0,1000.4 L2227.5,999.0 L2229.0,997.7 L2230.5,996.4 L2232.0,995.1 L2233.5,993.7 L2235.0,992.4 L2236.5,991.1 L2238.0,989.8 L2239.6,988.5 L2241.1,987.2 L2242.6,985.9 L2244.1,984.6 L2245.6,983.3 L2247.2,982.0 L2248.7,980.7 L2250.2,979.4 L2251.8,978.1 L2253.3,976.9 L2254.9,975.6 L2256.4,974.3 L2258.0,973.1 L2259.5,971.8 L2261.1,970.6 L2262.7,969.3 L2264.2,968.1 L2265.8,966.9 L2267.4,965.7 L2269.0,964.4 L2270.6,963.2 L2272.2,962.0 L2273.8,960.8 L2275.4,959.6 L2277.0,958.5 L2278.6,957.3 L2280.3,956.1 L2281.9,955.0 L2283.5,953.8 L2285.1,952.6 L2286.8,951.5 L2288.4,950.3 L2290.1,949.2 L2291.7,948.1 L2293.4,947.0 L2295.0,945.8 L2296.7,944.7 L2298.4,943.6 L2300.0,942.5 L2301.7,941.4 L2303.4,940.3 L2305.1,939.2 L2306.8,938.1 L2308.4,937.1 L2310.1,936.0 L2311.8,934.9 L2313.5,933.9 L2315.2,932.8 L2317.0,931.8 L2318.7,930.8 L2320.4,929.7 L2322.1,928.7 L2323.8,927.7 L2325.6,926.7 L2327.3,925.7 L2329.0,924.7 L2330.8,923.7 L2332.5,922.7 L2334.3,921.7 L2336.0,920.7 L2337.8,919.8 L2339.5,918.8 L2341.3,917.9 L2343.1,917.0 L2344.9,916.0 L2346.6,915.1 L2348.4,914.2 L2350.2,913.3 L2352.0,912.4 L2353.8,911.5 L2355.6,910.7 L2357.5,909.8 L2359.3,909.0 L2361.1,908.1 L2362.9,907.3 L2364.8,906.5 L2366.6,905.7 L2368.5,904.9 L2370.3,904.2 L2372.2,903.4 L2374.1,902.7 L2375.9,902.0 L2377.8,901.3 L2379.7,900.7 L2381.6,900.0 L2383.5,899.4 L2385.4,898.8 L2387.3,898.2 L2389.3,897.7 L2391.2,897.2 L2393.2,896.7 L2395.1,896.3 L2397.1,895.9 L2399.0,895.5 L2401.0,895.2 L2403.0,894.9 L2405.0,894.7 L2407.0,894.5 L2409.0,894.3 L2411.0,894.2 L2413.0,894.1 L2415.0,894.1 L2416.9,894.1 L2418.9,894.2 L2420.9,894.4 L2422.9,894.6 L2424.8,894.9 L2426.8,895.2 L2428.7,895.7 L2430.6,896.1 L2432.5,896.7 L2434.4,897.3 L2436.2,898.0 L2438.0,898.7 L2439.8,899.5 L2441.6,900.3 L2443.4,901.2 L2445.1,902.2 L2446.8,903.2 L2448.5,904.2 L2450.2,905.3 L2451.8,906.5 L2453.4,907.6 L2455.0,908.8 L2456.6,910.1 L2458.1,911.4 L2459.7,912.7 L2461.2,914.0 L2462.7,915.3 L2464.1,916.7 L2465.6,918.1 L2467.0,919.5 L2468.5,920.9 L2469.9,922.4 L2471.3,923.9 L2472.7,925.3 L2474.0,926.8 L2475.4,928.3 L2476.7,929.8 L2478.1,931.3 L2479.4,932.9 L2480.7,934.4 L2482.0,935.9 L2483.3,937.5 L2484.6,939.0 L2485.9,940.6 L2487.2,942.2 L2488.4,943.7 L2489.7,945.3 L2491.0,946.9 L2492.2,948.5 L2493.5,950.0 L2494.7,951.6 L2495.9,953.2 L2497.2,954.8 L2498.4,956.4 L2499.6,958.0 L2500.9,959.6 L2502.1,961.2 L2503.3,962.8 L2504.6,964.4 L2505.8,966.0 L2507.0,967.6 L2508.2,969.1 L2509.5,970.7 L2510.7,972.3 L2512.0,973.9 L2513.2,975.5 L2514.5,977.1 L2515.7,978.6 L2517.0,980.2 L2518.3,981.7 L2519.6,983.3 L2520.9,984.8 L2522.2,986.4 L2523.5,987.9 L2524.8,989.4 L2526.2,990.9 L2527.5,992.3 L2528.9,993.8 L2530.3,995.3 L2531.7,996.7 L2533.1,998.1 L2534.6,999.5 L2536.0,1000.8 L2537.5,1002.1 L2539.0,1003.4 L2540.6,1004.7 L2542.1,1006.0 L2543.7,1007.2 L2545.3,1008.4 L2546.9,1009.5 L2548.6,1010.6 L2550.3,1011.7 L2552.0,1012.7 L2553.7,1013.7 L2555.4,1014.7 L2557.2,1015.6 L2559.0,1016.5 L2560.8,1017.3 L2562.6,1018.1 L2564.5,1018.9 L2566.3,1019.6 L2568.2,1020.2 L2570.1,1020.8 L2572.0,1021.4 L2573.9,1021.9 L2575.9,1022.3 L2577.8,1022.7 L2579.8,1023.0 L2581.8,1023.3 L2583.7,1023.5 L2585.7,1023.6 L2587.7,1023.6 L2589.7,1023.5 L2591.6,1023.4 L2593.6,1023.2 L2595.6,1023.0 L2597.5,1022.7 L2599.5,1022.3 L2601.4,1021.9 L2603.4,1021.5 L2605.3,1021.0 L2607.2,1020.4 L2609.1,1019.8 L2611.0,1019.2 L2612.9,1018.5 L2614.8,1017.8 L2616.6,1017.0 L2618.5,1016.3 L2620.3,1015.5 L2622.2,1014.6 L2624.0,1013.8 L2625.8,1012.9 L2627.6,1012.0 L2629.4,1011.1 L2631.2,1010.2 L2633.0,1009.2 L2634.7,1008.3 L2636.5,1007.3 L2638.3,1006.3 L2640.0,1005.3 L2641.7,1004.2 L2643.4,1003.2 L2645.2,1002.1 L2646.9,1001.1 L2648.6,1000.0 L2650.3,998.9 L2652.0,997.8 L2653.6,996.7 L2655.3,995.6 L2657.0,994.5 L2658.7,993.4 L2660.3,992.2 L2662.0,991.1 L2663.6,990.0 L2665.3,988.8 L2666.9,987.7 L2668.6,986.5 L2670.2,985.4 L2671.8,984.2 L2673.4,983.0 L2675.1,981.8 L2676.7,980.7 L2678.3,979.5 L2679.9,978.3 L2681.5,977.1 L2683.1,975.9 L2684.7,974.7 L2686.3,973.5 L2687.9,972.2 L2689.5,971.0 L2691.1,969.8 L2692.7,968.6 L2694.2,967.4 L2695.8,966.2 L2697.4,964.9 L2699.0,963.7 L2700.6,962.5 L2702.2,961.3 L2703.8,960.1 L2705.3,958.8 L2706.9,957.6 L2708.5,956.4 L2710.1,955.2 L2711.7,954.0 L2713.3,952.8 L2714.9,951.6 L2716.5,950.4 L2718.1,949.2 L2719.7,948.0 L2721.3,946.8 L2722.9,945.6 L2724.5,944.4 L2726.1,943.2 L2727.7,942.0 L2729.3,940.8 L2731.0,939.6 L2732.6,938.5 L2734.2,937.3 L2735.8,936.1 L2737.5,935.0 L2739.1,933.8 L2740.7,932.7 L2742.4,931.5 L2744.0,930.4 L2745.7,929.3 L2747.4,928.2 L2749.0,927.1 L2750.7,926.0 L2752.4,924.9 L2754.1,923.8 L2755.7,922.7 L2757.4,921.6 L2759.1,920.5 L2760.8,919.4 L2762.5,918.4 L2764.2,917.3 L2765.9,916.3 L2767.7,915.3 L2769.4,914.2 L2771.1,913.2 L2772.9,912.2 L2774.6,911.2 L2776.4,910.3 L2778.1,909.3 L2779.9,908.3 L2781.7,907.4 L2783.5,906.4 L2785.2,905.5 L2787.0,904.6 L2788.8,903.7 L2790.7,902.8 L2792.5,902.0 L2794.3,901.1 L2796.1,900.3 L2798.0,899.5 L2799.8,898.7 L2801.7,898.0 L2803.6,897.3 L2805.4,896.6 L2807.3,895.9 L2809.2,895.2 L2811.1,894.6 L2813.1,894.1 L2815.0,893.5 L2816.9,893.0 L2818.9,892.6 L2820.8,892.1 L2822.8,891.8 L2824.8,891.5 L2826.7,891.2 L2828.7,891.0 L2830.7,890.8 L2832.7,890.7 L2834.7,890.7 L2836.7,890.8 L2838.7,890.9 L2840.6,891.1 L2842.6,891.3 L2844.5,891.7 L2846.5,892.1 L2848.4,892.6 L2850.2,893.1 L2852.1,893.8 L2853.9,894.5 L2855.7,895.3 L2857.5,896.1 L2859.2,897.0 L2860.9,898.0 L2862.6,899.0 L2864.2,900.1 L2865.9,901.2 L2867.5,902.4 L2869.1,903.6 L2870.6,904.8 L2872.2,906.1 L2873.7,907.4 L2875.2,908.8 L2876.6,910.2 L2878.1,911.6 L2879.5,913.0 L2880.9,914.5 L2882.3,915.9 L2883.7,917.4 L2885.1,918.9 L2886.4,920.5 L2887.8,922.0 L2889.1,923.5 L2890.4,925.1 L2891.7,926.6 L2893.0,928.2 L2894.2,929.8 L2895.5,931.4 L2896.8,933.0 L2898.0,934.6 L2899.2,936.2 L2900.5,937.8 L2901.7,939.4 L2902.9,941.0 L2904.1,942.6 L2905.3,944.2 L2906.5,945.9 L2907.7,947.5 L2908.8,949.1 L2910.0,950.8 L2911.1,952.4 L2912.3,954.1 L2913.4,955.7 L2914.6,957.4 L2915.7,959.0 L2916.8,960.7 L2917.9,962.3 L2919.1,964.0 L2920.2,965.6 L2921.3,967.3 L2922.4,969.0 L2923.5,970.6 L2924.6,972.3 L2925.7,974.0 L2926.8,975.6 L2927.9,977.3 L2929.0,979.0 L2930.1,980.7 L2931.2,982.3 L2932.3,984.0 L2933.4,985.7 L2934.5,987.3 L2935.6,989.0 L2936.7,990.7 L2937.8,992.3 L2938.9,994.0 L2940.0,995.7 L2941.1,997.3 L2942.3,999.0 L2943.4,1000.6 L2944.6,1002.2 L2945.7,1003.8 L2946.9,1005.5 L2948.1,1007.1 L2949.3,1008.7 L2950.6,1010.2 L2951.8,1011.8 L2953.1,1013.4 L2954.4,1014.9 L2955.7,1016.4 L2957.1,1017.9 L2958.5,1019.4 L2959.9,1020.9 L2961.3,1022.3 L2962.8,1023.7 L2964.4,1025.1 L2966.0,1026.3 L2967.6,1027.4 L2969.4,1028.3 L2971.2,1029.0 L2973.1,1029.4 L2975.0,1029.5 L2976.9,1029.3 L2978.7,1028.8 L2980.6,1028.1 L2982.3,1027.1 L2983.9,1026.1 L2985.5,1024.9 L2986.9,1023.6 L2988.2,1022.2 L2989.5,1020.8 L2990.6,1019.2 L2991.6,1017.6 L2992.6,1015.9 L2993.5,1014.2 L2994.4,1012.4 L2995.1,1010.6 L2995.8,1008.7 L2996.5,1006.8 L2997.1,1004.8 L2997.7,1002.9 L2998.2,1000.9 L2998.7,998.9 L2999.2,996.9 L2999.6,994.9 L3000.0,992.8 L3000.4,990.8 L3000.7,988.7 L3001.1,986.7 L3001.4,984.6 L3001.7,982.5 L3002.0,980.5 L3002.3,978.4 L3002.5,976.4 L3002.8,974.3 L3003.0,972.3 L3003.3,970.2 L3003.5,968.2 L3003.8,966.1 L3004.0,964.1 L3004.2,962.1 L3004.4,960.0 L3004.6,958.0 L3004.8,956.0 L3005.0,954.0 L3005.2,952.0 L3005.4,949.9 L3005.6,947.9 L3005.8,945.9 L3006.0,943.9 L3006.1,941.9 L3006.3,939.9 L3006.5,937.9 L3006.7,935.9 L3006.8,933.9 L3007.0,931.9 L3007.1,929.9 L3007.3,927.9 L3007.4,925.9 L3007.6,923.9 L3007.7,921.9 L3007.9,919.9 L3008.0,918.0 L3008.1,916.0 L3008.2,914.0 L3008.3,912.0 L3008.4,910.0 L3008.5,908.0 L3008.6,906.0 L3008.7,904.0 L3008.8,902.0 L3008.9,900.0 L3009.0,898.0 L3009.1,896.0 L3009.2,894.0 L3009.3,892.0 L3009.4,890.0 L3009.5,888.0 L3009.6,886.0 L3009.6,884.0 L3009.7,882.0 L3009.8,880.1 L3009.9,878.1 L3010.0,876.1 L3010.2,874.1 L3010.3,872.1 L3010.4,870.1 L3010.5,868.1 L3010.6,866.1 L3010.7,864.1 L3010.9,862.1 L3011.0,860.1 L3011.1,858.1 L3011.3,856.1 L3011.4,854.1 L3011.5,852.1 L3011.6,850.1 L3011.8,848.1 L3011.9,846.1 L3012.0,844.1 L3012.2,842.1 L3012.3,840.1 L3012.5,838.1 L3012.6,836.1 L3012.7,834.1 L3012.9,832.1 L3013.0,830.1 L3013.1,828.1 L3013.2,826.1 L3013.4,824.1 L3013.5,822.1 L3013.6,820.1 L3013.8,818.1 L3013.9,816.1 L3014.0,814.1 L3014.1,812.1 L3014.2,810.1 L3014.4,808.1 L3014.5,806.1 L3014.6,804.1 L3014.7,802.2 L3014.8,800.2 L3014.9,798.2 L3015.0,796.2 L3015.1,794.2 L3015.2,792.2 L3015.3,790.2 L3015.4,788.2 L3015.5,786.2 L3015.6,784.2 L3015.7,782.2 L3015.8,780.2 L3015.8,778.2 L3015.9,776.2 L3016.0,774.2 L3016.1,772.2 L3016.2,770.2 L3016.2,768.2 L3016.3,766.2 L3016.4,764.2 L3016.5,762.2 L3016.5,760.2 L3016.6,758.2 L3016.7,756.2 L3016.7,754.2 L3016.8,752.2 L3016.9,750.2 L3016.9,748.2 L3017.0,746.2 L3017.0,744.2 L3017.1,742.2 L3017.1,740.2 L3017.2,738.2 L3017.2,736.2 L3017.3,734.2 L3017.3,732.2 L3017.4,730.2 L3017.4,728.2 L3017.5,726.1 L3017.5,724.1 L3017.6,722.1 L3017.6,720.1 L3017.6,718.1 L3017.7,716.1 L3017.7,714.1 L3017.8,712.1 L3017.8,710.1 L3017.9,708.1 L3017.9,706.1 L3017.9,704.1 L3018.0,702.1 L3018.0,700.1 L3018.1,698.1 L3018.1,696.1 L3018.2,694.1 L3018.2,692.1 L3018.3,690.1 L3018.3,688.1 L3018.4,686.1 L3018.4,684.1 L3018.5,682.1 L3018.5,680.1 L3018.6,678.1 L3018.7,676.1 L3018.7,674.1 L3018.8,672.1 L3018.9,670.1 L3018.9,668.1 L3019.0,666.1 L3019.1,664.1 L3019.1,662.1 L3019.2,660.1 L3019.3,658.1 L3019.3,656.1 L3019.4,654.1 L3019.5,652.1 L3019.6,650.1 L3019.6,648.1 L3019.7,646.1 L3019.8,644.1 L3019.8,642.1 L3019.9,640.1 L3020.0,638.1 L3020.0,636.1 L3020.1,634.1 L3020.2,632.1 L3020.2,630.1 L3020.3,628.1 L3020.4,626.1 L3020.4,624.1 L3020.5,622.1 L3020.6,620.1 L3020.6,618.1 L3020.7,616.1 L3020.8,614.1 L3020.8,612.1 L3020.9,610.1 L3021.0,608.1 L3021.0,606.1 L3021.1,604.1 L3021.2,602.1 L3021.3,600.1 L3021.3,598.1 L3021.4,596.1 L3021.5,594.1 L3021.5,592.1 L3021.6,590.1 L3021.7,588.1 L3021.7,586.1 L3021.8,584.1 L3021.8,582.1 L3021.9,580.1 L3021.9,578.1 L3022.0,576.1 L3022.0,574.1 L3022.1,572.1 L3022.1,570.1 L3022.2,568.1 L3022.2,566.1 L3022.2,564.1 L3022.3,562.1 L3022.3,560.1 L3022.3,558.1 L3022.4,556.1 L3022.4,554.1 L3022.4,552.1 L3022.5,550.1 L3022.5,548.1 L3022.5,546.1 L3022.6,544.1 L3022.6,542.1 L3022.6,540.1 L3022.6,538.1 L3022.7,536.1 L3022.7,534.1 L3022.7,532.1 L3022.8,530.1 L3022.8,528.1 L3022.8,526.1 L3022.9,524.1 L3022.9,522.1 L3023.0,520.1 L3023.0,518.1 L3023.1,516.1 L3023.1,514.1 L3023.2,512.1 L3023.2,510.1 L3023.3,508.1 L3023.3,506.1 L3023.4,504.1 L3023.4,502.1 L3023.5,500.1 L3023.6,498.1 L3023.6,496.1 L3023.7,494.1 L3023.8,492.1 L3023.8,490.1 L3023.9,488.1 L3024.0,486.1 L3024.0,484.1 L3024.1,482.1 L3024.2,480.1 L3024.2,478.1 L3024.3,476.1 L3024.4,474.1 L3024.5,472.1 L3024.5,470.1 L3024.6,468.1 L3024.7,466.1 L3024.8,464.1 L3024.9,462.1 L3024.9,460.1 L3025.0,458.1 L3025.1,456.1 L3025.2,454.0 L3025.3,452.0 L3025.4,450.0 L3025.5,448.0 L3025.5,446.0 L3025.6,444.0 L3025.7,442.0 L3025.8,440.0 L3025.9,438.0 L3026.0,436.0 L3026.1,434.1 L3026.2,432.1 L3026.3,430.1 L3026.4,428.1 L3026.5,426.1 L3026.7,424.1 L3026.8,422.1 L3026.9,420.1 L3027.0,418.1 L3027.2,416.2 L3027.3,414.2 L3027.4,412.2 L3027.6,410.2 L3027.7,408.3 L3027.9,406.3 L3028.1,404.3 L3028.2,402.4 L3028.4,400.4 L3028.6,398.5 L3028.8,396.5 L3029.0,394.6 L3029.2,392.6 L3029.4,390.7 L3029.6,388.7 L3029.8,386.8 L3030.1,384.8 L3030.3,382.9 L3030.6,381.0 L3030.9,379.0 L3031.3,377.0 L3031.7,375.0 L3032.2,372.9 L3032.8,370.8 L3033.5,368.6 L3034.4,366.4 L3035.3,364.1 L3036.4,362.2 L3037.4,361.1 L3038.4,361.1 L3039.3,362.2 L3040.2,364.2 L3041.0,366.5 L3041.7,368.7 L3042.4,370.9 L3043.0,373.0 L3043.5,375.1 L3044.0,377.1 L3044.5,379.0 L3044.9,381.0 L3045.3,382.9 L3045.7,384.8 L3046.1,386.7 L3046.5,388.6 L3046.9,390.5 L3047.2,392.5 L3047.6,394.4 L3047.9,396.3 L3048.2,398.2 L3048.6,400.2 L3048.9,402.1 L3049.2,404.0 L3049.5,406.0 L3049.8,407.9 L3050.1,409.9 L3050.4,411.8 L3050.6,413.8 L3050.9,415.7 L3051.2,417.7 L3051.4,419.7 L3051.7,421.7 L3052.0,423.6 L3052.2,425.6 L3052.5,427.6 L3052.7,429.6 L3053.0,431.5 L3053.2,433.5 L3053.5,435.5 L3053.7,437.5 L3053.9,439.5 L3054.2,441.5 L3054.4,443.5 L3054.6,445.4 L3054.9,447.4 L3055.1,449.4 L3055.3,451.4 L3055.5,453.4 L3055.8,455.4 L3056.0,457.4 L3056.2,459.4 L3056.4,461.4 L3056.6,463.4 L3056.9,465.4 L3057.1,467.3 L3057.3,469.3 L3057.5,471.3 L3057.7,473.3 L3058.0,475.3 L3058.2,477.3 L3058.4,479.3 L3058.6,481.3 L3058.8,483.3 L3059.0,485.3 L3059.2,487.3 L3059.4,489.3 L3059.6,491.2 L3059.8,493.2 L3060.0,495.2 L3060.2,497.2 L3060.4,499.2 L3060.6,501.2 L3060.8,503.2 L3061.0,505.2 L3061.2,507.2 L3061.4,509.2 L3061.6,511.2 L3061.7,513.2 L3061.9,515.2 L3062.1,517.1 L3062.2,519.1 L3062.4,521.1 L3062.6,523.1 L3062.7,525.1 L3062.9,527.1 L3063.1,529.1 L3063.2,531.1 L3063.4,533.1 L3063.5,535.1 L3063.7,537.1 L3063.9,539.1 L3064.0,541.1 L3064.2,543.1 L3064.4,545.1 L3064.5,547.1 L3064.7,549.1 L3064.9,551.0 L3065.0,553.0 L3065.2,555.0 L3065.4,557.0 L3065.6,559.0 L3065.7,561.0 L3065.9,563.0 L3066.1,565.0 L3066.2,567.0 L3066.4,569.0 L3066.6,571.0 L3066.7,573.0 L3066.9,575.0 L3067.0,577.0 L3067.2,579.0 L3067.4,581.0 L3067.5,583.0 L3067.7,585.0 L3067.8,586.9 L3068.0,588.9 L3068.1,590.9 L3068.3,592.9 L3068.4,594.9 L3068.6,596.9 L3068.7,598.9 L3068.9,600.9 L3069.0,602.9 L3069.2,604.9 L3069.3,606.9 L3069.5,608.9 L3069.6,610.9 L3069.8,612.9 L3069.9,614.9 L3070.1,616.9 L3070.2,618.9 L3070.4,620.9 L3070.5,622.9 L3070.7,624.9 L3070.8,626.9 L3070.9,628.9 L3071.1,630.9 L3071.2,632.9 L3071.4,634.9 L3071.5,636.8 L3071.7,638.8 L3071.8,640.8 L3072.0,642.8 L3072.2,644.8 L3072.3,646.8 L3072.5,648.8 L3072.6,650.8 L3072.8,652.8 L3073.0,654.8 L3073.1,656.8 L3073.3,658.8 L3073.5,660.8 L3073.6,662.8 L3073.8,664.8 L3074.0,666.8 L3074.2,668.8 L3074.4,670.8 L3074.5,672.7 L3074.7,674.7 L3074.9,676.7 L3075.1,678.7 L3075.3,680.7 L3075.5,682.7 L3075.7,684.7 L3075.9,686.7 L3076.1,688.7 L3076.3,690.7 L3076.5,692.7 L3076.7,694.7 L3076.9,696.6 L3077.2,698.6 L3077.4,700.6 L3077.6,702.6 L3077.8,704.6 L3078.0,706.6 L3078.2,708.6 L3078.4,710.6 L3078.7,712.6 L3078.9,714.6 L3079.1,716.5 L3079.3,718.5 L3079.5,720.5 L3079.7,722.5 L3079.9,724.5 L3080.1,726.5 L3080.4,728.5 L3080.6,730.5 L3080.8,732.5 L3081.0,734.5 L3081.2,736.4 L3081.4,738.4 L3081.6,740.4 L3081.8,742.4 L3082.0,744.4 L3082.2,746.4 L3082.4,748.4 L3082.6,750.4 L3082.9,752.4 L3083.1,754.4 L3083.3,756.4 L3083.5,758.3 L3083.7,760.3 L3083.9,762.3 L3084.1,764.3 L3084.3,766.3 L3084.5,768.3 L3084.7,770.3 L3084.9,772.3 L3085.1,774.3 L3085.3,776.3 L3085.5,778.3 L3085.7,780.2 L3085.9,782.2 L3086.1,784.2 L3086.3,786.2 L3086.5,788.2 L3086.7,790.2 L3086.9,792.2 L3087.1,794.2 L3087.3,796.2 L3087.5,798.2 L3087.7,800.2 L3087.9,802.2 L3088.1,804.1 L3088.3,806.1 L3088.5,808.1 L3088.7,810.1 L3088.9,812.1 L3089.2,814.1 L3089.4,816.1 L3089.6,818.1 L3089.8,820.1 L3090.0,822.1 L3090.2,824.0 L3090.4,826.0 L3090.6,828.0 L3090.8,830.0 L3091.0,832.0 L3091.3,834.0 L3091.5,836.0 L3091.7,838.0 L3091.9,840.0 L3092.1,842.0 L3092.3,844.0 L3092.5,845.9 L3092.7,847.9 L3092.9,849.9 L3093.1,851.9 L3093.3,853.9 L3093.5,855.9 L3093.7,857.9 L3093.9,859.9 L3094.1,861.9 L3094.3,863.9 L3094.5,865.9 L3094.7,867.8 L3094.9,869.8 L3095.1,871.8 L3095.3,873.8 L3095.5,875.8 L3095.7,877.8 L3095.9,879.8 L3096.1,881.8 L3096.4,883.8 L3096.6,885.8 L3096.8,887.8 L3097.0,889.7 L3097.2,891.7 L3097.4,893.7 L3097.7,895.7 L3097.9,897.7 L3098.1,899.7 L3098.4,901.7 L3098.6,903.7 L3098.9,905.6 L3099.1,907.6 L3099.4,909.6 L3099.6,911.6 L3099.9,913.6 L3100.1,915.6 L3100.4,917.5 L3100.7,919.5 L3100.9,921.5 L3101.2,923.5 L3101.4,925.5 L3101.7,927.5 L3102.0,929.4 L3102.2,931.4 L3102.5,933.4 L3102.8,935.4 L3103.0,937.4 L3103.3,939.4 L3103.6,941.3 L3103.8,943.3 L3104.1,945.3 L3104.4,947.3 L3104.7,949.3 L3104.9,951.3 L3105.2,953.2 L3105.5,955.2 L3105.7,957.2 L3106.0,959.2 L3106.3,961.2 L3106.6,963.1 L3106.9,965.1 L3107.2,967.1 L3107.4,969.1 L3107.7,971.1 L3108.0,973.1 L3108.3,975.0 L3108.6,977.0 L3108.9,979.0 L3109.2,981.0 L3109.6,982.9 L3109.9,984.9 L3110.2,986.9 L3110.5,988.9 L3110.9,990.9 L3111.2,992.8 L3111.5,994.8 L3111.9,996.8 L3112.2,998.8 L3112.6,1000.7 L3112.9,1002.7 L3113.3,1004.7 L3113.6,1006.7 L3114.0,1008.7 L3114.4,1010.6 L3114.8,1012.6 L3115.2,1014.6 L3115.6,1016.6 L3116.0,1018.5 L3116.4,1020.5 L3116.8,1022.5 L3117.3,1024.5 L3117.7,1026.4 L3118.2,1028.4 L3118.7,1030.4 L3119.2,1032.3 L3119.7,1034.3 L3120.2,1036.3 L3120.7,1038.2 L3121.2,1040.2 L3121.8,1042.1 L3122.4,1044.1 L3123.0,1046.0 L3123.6,1047.9 L3124.3,1049.8 L3125.0,1051.7 L3125.7,1053.6 L3126.4,1055.5 L3127.2,1057.3 L3128.0,1059.2 L3128.9,1061.0 L3129.8,1062.8 L3130.8,1064.5 L3131.8,1066.3 L3132.8,1068.0 L3133.9,1069.6 L3135.1,1071.2 L3136.4,1072.8 L3137.7,1074.3 L3139.1,1075.8 L3140.6,1077.3 L3142.2,1078.6 L3143.8,1079.9 L3145.5,1081.0 L3147.3,1081.9 L3149.1,1082.7 L3150.9,1083.1 L3152.8,1083.4 L3154.7,1083.3 L3156.6,1082.9 L3158.5,1082.4 L3160.4,1081.6 L3162.2,1080.7 L3164.1,1079.8 L3165.8,1078.7 L3167.6,1077.6 L3169.2,1076.5 L3170.9,1075.3 L3172.5,1074.0 L3174.0,1072.8 L3175.5,1071.4 L3177.0,1070.1 L3178.4,1068.7 L3179.8,1067.3 L3181.2,1065.8 L3182.5,1064.4 L3183.8,1062.8 L3185.1,1061.3 L3186.4,1059.8 L3187.6,1058.2 L3188.8,1056.6 L3190.0,1055.0 L3191.1,1053.3 L3192.3,1051.7 L3193.4,1050.0 L3194.5,1048.3 L3195.6,1046.7 L3196.7,1045.0 L3197.8,1043.3 L3198.8,1041.6 L3199.9,1039.8 L3201.0,1038.1 L3202.0,1036.4 L3203.0,1034.7 L3204.1,1032.9 L3205.1,1031.2 L3206.1,1029.5 L3207.2,1027.7 L3208.2,1026.0 L3209.2,1024.3 L3210.2,1022.5 L3211.2,1020.8 L3212.2,1019.0 L3213.3,1017.3 L3214.3,1015.6 L3215.3,1013.8 L3216.3,1012.1 L3217.4,1010.4 L3218.4,1008.6 L3219.4,1006.9 L3220.5,1005.2 L3221.5,1003.5 L3222.6,1001.7 L3223.6,1000.0 L3224.7,998.3 L3225.8,996.6 L3226.8,994.9 L3227.9,993.2 L3229.0,991.6 L3230.2,989.9 L3231.3,988.2 L3232.4,986.5 L3233.6,984.9 L3234.8,983.2 L3236.0,981.6 L3237.2,980.0 L3238.4,978.4 L3239.6,976.8 L3240.8,975.2 L3242.1,973.6 L3243.4,972.0 L3244.7,970.4 L3246.0,968.9 L3247.3,967.4 L3248.7,965.9 L3250.1,964.4 L3251.5,962.9 L3252.9,961.5 L3254.3,960.1 L3255.8,958.7 L3257.3,957.4 L3258.8,956.1 L3260.3,954.8 L3261.9,953.6 L3263.5,952.4 L3265.1,951.2 L3266.7,950.1 L3268.4,949.1 L3270.1,948.1 L3271.9,947.2 L3273.7,946.3 L3275.5,945.5 L3277.3,944.8 L3279.1,944.2 L3281.0,943.6 L3282.9,943.2 L3284.9,942.8 L3286.8,942.5 L3288.7,942.3 L3290.7,942.2 L3292.7,942.2 L3294.6,942.2 L3296.6,942.3 L3298.6,942.5 L3300.6,942.8 L3302.5,943.1 L3304.5,943.4 L3306.4,943.9 L3308.4,944.3 L3310.3,944.8 L3312.2,945.4 L3314.1,946.0 L3316.1,946.6 L3318.0,947.2 L3319.9,947.9 L3321.8,948.6 L3323.6,949.3 L3325.5,950.1 L3327.4,950.8 L3329.3,951.6 L3331.1,952.4 L3333.0,953.2 L3334.8,954.1 L3336.7,954.9 L3338.5,955.7 L3340.3,956.6 L3342.2,957.5 L3344.0,958.4 L3345.8,959.3 L3347.6,960.2 L3349.4,961.1 L3351.2,962.0 L3353.0,962.9 L3354.8,963.9 L3356.5,964.8 L3358.3,965.8 L3360.1,966.7 L3361.8,967.7 L3363.6,968.7 L3365.3,969.7 L3367.0,970.7 L3368.8,971.7 L3370.5,972.7 L3372.2,973.7 L3373.9,974.8 L3375.7,975.8 L3377.4,976.9 L3379.1,977.9 L3380.7,979.0 L3382.4,980.1 L3384.1,981.1 L3385.8,982.2 L3387.4,983.4 L3389.1,984.5 L3390.8,985.6 L3392.4,986.7 L3394.0,987.9 L3395.7,989.0 L3397.3,990.2 L3398.9,991.4 L3400.5,992.5 L3402.1,993.7 L3403.7,994.9 L3405.3,996.1 L3406.9,997.4 L3408.5,998.6 L3410.1,999.8 L3411.7,1001.0 L3413.2,1002.3 L3414.8,1003.5 L3416.4,1004.8 L3417.9,1006.0 L3419.5,1007.3 L3421.0,1008.5 L3422.6,1009.8 L3424.2,1011.1 L3425.7,1012.3 L3427.2,1013.6 L3428.8,1014.9 L3430.3,1016.1 L3431.9,1017.4 L3433.4,1018.7 L3434.9,1020.0 L3436.5,1021.3 L3438.0,1022.6 L3439.5,1023.9 L3441.0,1025.2 L3442.5,1026.5 L3444.0,1027.8 L3445.5,1029.1 L3447.1,1030.5 L3448.6,1031.8 L3450.0,1033.1 L3451.5,1034.5 L3453.0,1035.8 L3454.5,1037.1 L3456.0,1038.5 L3457.5,1039.8 L3459.0,1041.1 L3460.5,1042.5 L3461.9,1043.8 L3463.4,1045.2 L3464.9,1046.5 L3466.4,1047.9 L3467.8,1049.3 L3469.3,1050.6 L3470.8,1052.0 L3472.2,1053.3 L3473.7,1054.7 L3475.2,1056.1 L3476.6,1057.4 L3478.1,1058.8 L3479.6,1060.2 L3481.0,1061.5 L3482.5,1062.9 L3484.0,1064.3 L3485.4,1065.6 L3486.9,1067.0 L3488.3,1068.3 L3489.8,1069.7 L3491.3,1071.1 L3492.7,1072.4 L3494.2,1073.8 L3495.7,1075.2 L3497.1,1076.5 L3498.6,1077.9" fill="none" stroke="#195488" stroke-width="6" stroke-linejoin="round" stroke-linecap="round"/>
<text transform="translate(521.42 97.00) scale(0.8566 1)" font-size="76.70">Ineffective</text>
<text transform="translate(833.82 97.00) scale(0.8072 1)" font-size="76.70">reserve</text>
<text transform="translate(663.27 185.00) scale(0.8377 1)" font-size="76.70">capacity</text>
<text transform="translate(509.97 290.00) scale(0.8251 1)" font-size="55.50" filter="url(#th)">Reserved</text>
<text transform="translate(719.76 290.00) scale(0.8771 1)" font-size="55.50" filter="url(#th)">instance</text>
<text transform="translate(912.92 290.00) scale(0.8828 1)" font-size="55.50" filter="url(#th)">ceiling</text>
<text transform="translate(701.92 1484.00) scale(0.8626 1)" font-size="66.00" filter="url(#th)">Time</text>
<text transform="translate(80.75 1041.49) rotate(-90) scale(0.8014 1)" font-size="68.50" filter="url(#th)">Capacity</text>
<text transform="translate(80.75 811.79) rotate(-90) scale(0.8207 1)" font-size="68.50" filter="url(#th)">requirements</text>
<text transform="translate(171.75 810.07) rotate(-90) scale(0.8090 1)" font-size="57.00" filter="url(#th)">Unused</text>
<text transform="translate(171.75 636.97) rotate(-90) scale(0.8531 1)" font-size="57.00" filter="url(#th)">capacity</text>
<text transform="translate(1386.75 810.07) rotate(-90) scale(0.8090 1)" font-size="57.00" filter="url(#th)">Unused</text>
<text transform="translate(1386.75 636.97) rotate(-90) scale(0.8531 1)" font-size="57.00" filter="url(#th)">capacity</text>
<text transform="translate(2629.64 92.00) scale(0.8443 1)" font-size="77.00">Effective</text>
<text transform="translate(2891.91 92.00) scale(0.8066 1)" font-size="77.00">reserve</text>
<text transform="translate(2746.52 180.00) scale(0.8335 1)" font-size="77.00">capacity</text>
<text transform="translate(2160.75 1000.36) rotate(-90) scale(0.8021 1)" font-size="58.80" filter="url(#th)">Capacity</text>
<text transform="translate(2160.75 803.25) rotate(-90) scale(0.8196 1)" font-size="58.80" filter="url(#th)">requirements</text>
<text transform="translate(2346.85 844.00) scale(0.8029 1)" font-size="66.50" filter="url(#th)">Reserved</text>
<text transform="translate(2591.27 844.00) scale(0.8529 1)" font-size="66.50" filter="url(#th)">instance</text>
<text transform="translate(2817.75 844.00) scale(0.8502 1)" font-size="66.50" filter="url(#th)">ceiling</text>
<text transform="translate(3072.00 838.34) rotate(-90) scale(0.8062 1)" font-size="57.50" filter="url(#th)">Spot</text>
<text transform="translate(3072.00 728.06) rotate(-90) scale(0.8401 1)" font-size="57.50" filter="url(#th)">instance</text>
<text transform="translate(2794.71 1489.50) scale(0.8684 1)" font-size="66.00" filter="url(#th)">Time</text>
</svg>
</body></html>
